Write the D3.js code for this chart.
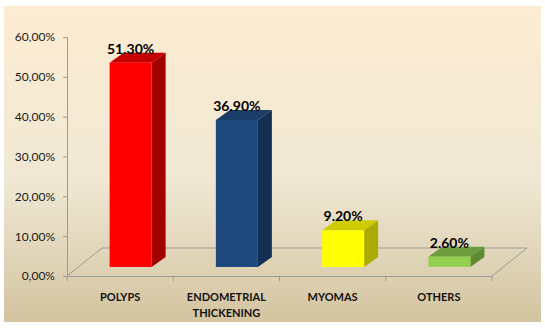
<!DOCTYPE html>
<html>
<head>
<meta charset="utf-8">
<script src="https://cdn.jsdelivr.net/npm/d3@7"></script>
<style>
  body { margin: 0; background: #fff; }
  svg { display: block; }
</style>
</head>
<body>
<svg id="chart" width="545" height="331"></svg>
<script>
const categories = ["POLYPS", "ENDOMETRIAL THICKENING", "MYOMAS", "OTHERS"];
const values = [0.513, 0.369, 0.092, 0.026];
const valueLabels = ["51.30%", "36.90%", "9.20%", "2.60%"];
const frontColors = ["#ff0000", "#1f497d", "#ffff00", "#92d050"];
const topColors = ["#c40000", "#1a3c66", "#cccc00", "#6c9c3c"];
const sideColors = ["#a30000", "#152f54", "#abab00", "#5e8a34"];
const yTicks = [0, 0.1, 0.2, 0.3, 0.4, 0.5, 0.6];

const svg = d3.select("#chart");

// background panel gradient
const defs = svg.append("defs");
const grad = defs.append("linearGradient")
    .attr("id", "bg").attr("x1", 0).attr("y1", 0).attr("x2", 0).attr("y2", 1);
grad.append("stop").attr("offset", "0%").attr("stop-color", "#fdecd1");
grad.append("stop").attr("offset", "55%").attr("stop-color", "#f0e8d4");
grad.append("stop").attr("offset", "100%").attr("stop-color", "#d3c4a0");

svg.append("rect")
    .attr("x", 4).attr("y", 6).attr("width", 537).attr("height", 316)
    .attr("fill", "url(#bg)");

const plotLeft = 67, plotRight = 492, plotBottom = 276, plotTop = 37;
const depth = { x: 35, y: -28 };

const x = d3.scaleBand().domain(categories).range([plotLeft, plotRight]);
const y = d3.scaleLinear().domain([0, 0.6]).range([plotBottom, plotTop]);

// floor
const floorColor = "#9a9a9a";
svg.append("path")
    .attr("d", `M${plotLeft},${plotBottom}L${plotLeft + depth.x},${plotBottom + depth.y}L${plotRight + depth.x},${plotBottom + depth.y}L${plotRight},${plotBottom}`)
    .attr("fill", "none")
    .attr("stroke", floorColor)
    .attr("stroke-width", 1);

// y axis
const yAxis = svg.append("g")
    .attr("transform", `translate(${plotLeft},0)`)
    .call(d3.axisLeft(y).tickValues(yTicks).tickSize(4).tickPadding(8)
        .tickFormat(d => d3.format(".2f")(d * 100).replace(".", ",") + "%"));
yAxis.select(".domain").attr("stroke", floorColor);
yAxis.selectAll(".tick line").attr("stroke", floorColor);
yAxis.selectAll("text")
    .attr("font-family", "Lato, sans-serif")
    .attr("font-size", 12)
    .attr("fill", "#1a1a1a");

// x axis
const xAxis = svg.append("g")
    .attr("transform", `translate(0,${plotBottom})`)
    .call(d3.axisBottom(x).tickSize(0).tickFormat(""));
xAxis.select(".domain").attr("stroke", floorColor);
xAxis.selectAll(".tick").remove();
xAxis.selectAll(".sep")
    .data([plotLeft, ...categories.map(c => x(c) + x.bandwidth())])
    .join("line")
    .attr("x1", d => d).attr("x2", d => d)
    .attr("y1", 0).attr("y2", 5)
    .attr("stroke", floorColor);

// category labels
const catLabels = svg.append("g")
    .selectAll("text")
    .data(categories)
    .join("text")
    .attr("x", d => x(d) + x.bandwidth() / 2)
    .attr("y", 301)
    .attr("text-anchor", "middle")
    .attr("font-family", "Lato, sans-serif")
    .attr("font-weight", "bold")
    .attr("font-size", 11)
    .attr("fill", "#111");
catLabels.each(function(d) {
    const words = d === "ENDOMETRIAL THICKENING" ? ["ENDOMETRIAL", "THICKENING"] : [d];
    const t = d3.select(this);
    words.forEach((w, i) => {
        t.append("tspan")
            .attr("x", x(d) + x.bandwidth() / 2)
            .attr("dy", i === 0 ? 0 : 16)
            .text(w);
    });
});

// 3D bars
const off = { x: 10.5, y: -9 };     // front plane of bars behind axis
const bd = { x: 14, y: -10 };       // bar depth
const bw = 42;

const bars = svg.append("g")
    .selectAll("g")
    .data(categories.map((c, i) => ({ c, v: values[i], i })))
    .join("g");

bars.each(function(d) {
    const g = d3.select(this);
    const x0 = x(d.c) + x.bandwidth() / 2 - bw / 2 + off.x;
    const x1 = x0 + bw;
    const y0 = y(0) + off.y;
    const y1 = y(d.v) + off.y;
    // side
    g.append("path")
        .attr("d", `M${x1},${y0}L${x1 + bd.x},${y0 + bd.y}L${x1 + bd.x},${y1 + bd.y}L${x1},${y1}Z`)
        .attr("fill", sideColors[d.i]);
    // top
    g.append("path")
        .attr("d", `M${x0},${y1}L${x0 + bd.x},${y1 + bd.y}L${x1 + bd.x},${y1 + bd.y}L${x1},${y1}Z`)
        .attr("fill", topColors[d.i]);
    // front
    g.append("rect")
        .attr("x", x0).attr("y", y1)
        .attr("width", bw).attr("height", y0 - y1)
        .attr("fill", frontColors[d.i]);
    // value label
    g.append("text")
        .attr("x", x0 + bw / 2)
        .attr("y", y1 - 9)
        .attr("text-anchor", "middle")
        .attr("font-family", "Lato, sans-serif")
        .attr("font-weight", "bold")
        .attr("font-size", 14)
        .attr("fill", "#000")
        .text(valueLabels[d.i]);
});
</script>
</body>
</html>
